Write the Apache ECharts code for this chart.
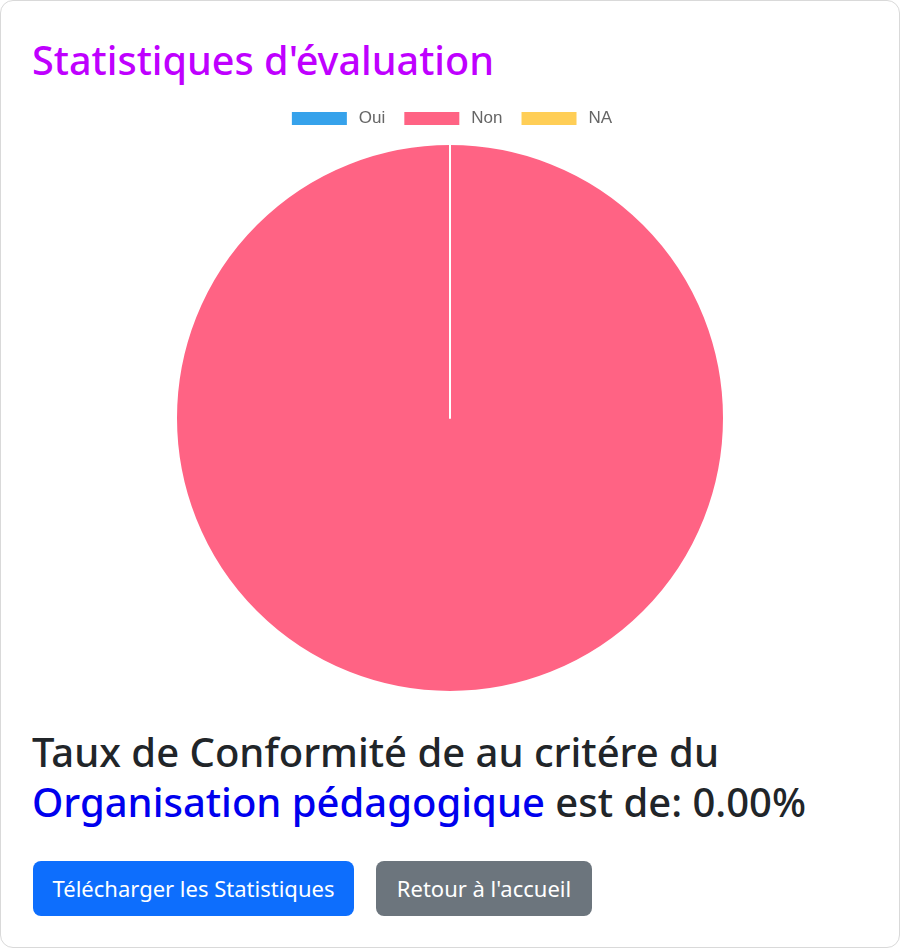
<!DOCTYPE html>
<html lang="fr">
<head>
<meta charset="utf-8">
<title>Statistiques d'évaluation</title>
<script src="https://cdn.jsdelivr.net/npm/echarts@6/dist/echarts.min.js"></script>
<style>
  html, body { margin: 0; padding: 0; background: #fff; }
  .card {
    position: absolute; left: 0; top: 0;
    width: 898px; height: 946px;
    border: 1px solid #d9d9d9; border-radius: 13px;
    font-family: "Noto Sans", "Open Sans", sans-serif;
  }
  .card h3 {
    position: absolute; left: 31px; top: 34px; margin: 0;
    font-size: 39.6px; font-weight: 500; line-height: 50px;
    color: #bf00ff;
  }
  #stats-chart {
    position: absolute; left: 0; top: 95px; width: 900px; height: 610px;
  }
  .rate {
    position: absolute; left: 31px; top: 726px; margin: 0;
    font-size: 40px; font-weight: 500; line-height: 50px; color: #212529;
  }
  .rate span { color: #0000ee; }
  .btn {
    position: absolute; top: 860px; height: 55px;
    border-radius: 8px; color: #fff; font-size: 22px;
    line-height: 55px; text-align: center;
  }
  .btn-primary { left: 32px; width: 321px; background: #0d6efd; }
  .btn-secondary { left: 375px; width: 216px; background: #6c757d; }
</style>
</head>
<body>
<div class="card">
  <h3>Statistiques d'évaluation</h3>
  <div id="stats-chart"></div>
  <p class="rate">Taux de Conformité de au critére du<br><span>Organisation pédagogique</span> est de: 0.00%</p>
  <div class="btn btn-primary">Télécharger les Statistiques</div>
  <div class="btn btn-secondary">Retour à l'accueil</div>
</div>
<script>
  // réponses
  const labels = ['Oui', 'Non', 'NA'];
  const counts = [0, 12, 0];
  const colors = ['#36A2EB', '#FF6384', '#FFCE56'];

  const chart = echarts.init(document.getElementById('stats-chart'));
  chart.setOption({
    animation: false,
    color: colors,
    legend: {
      top: 9,
      left: 'center',
      icon: 'rect',
      itemWidth: 57,
      itemHeight: 15,
      itemGap: 17,
      data: labels,
      textStyle: {
        fontFamily: 'Liberation Sans, Arial, sans-serif',
        fontSize: 17,
        color: '#666',
        padding: [0, 0, 0, 6]
      }
    },
    series: [
      {
        type: 'pie',
        center: [449, 322],
        radius: [0, 274],
        startAngle: 90,
        clockwise: true,
        label: { show: false },
        labelLine: { show: false },
        itemStyle: { borderColor: '#fff', borderWidth: 2 },
        data: labels.map((name, i) => ({ name: name, value: counts[i] }))
      }
    ]
  });
</script>
</body>
</html>
